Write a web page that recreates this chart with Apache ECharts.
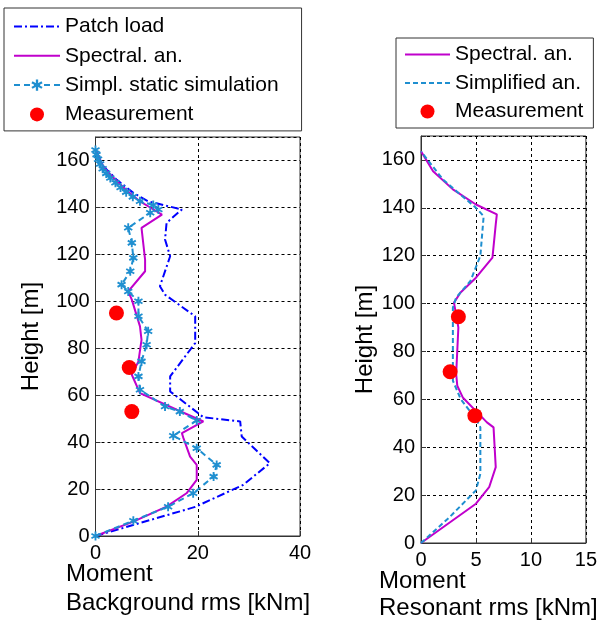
<!DOCTYPE html>
<html>
<head>
<meta charset="utf-8">
<script src="https://cdn.jsdelivr.net/npm/echarts@6/dist/echarts.min.js"></script>
<style>
  html, body { margin: 0; padding: 0; background: #fff; }
  #chart { width: 600px; height: 624px; }
</style>
</head>
<body>
<div id="chart"></div>
<script>
// left panel: background rms moment [kNm] vs height [m]
const patchH = [0, 12.4, 21.8, 31, 42.4, 48.8, 50.6, 59.4, 61.6, 68, 82.2, 93.6, 102.8, 106.4, 119.2, 126.3, 133.4, 138.4, 139.1, 142.6, 146.2, 151.9, 157.6, 164.7];
const patchM = [0, 19.5, 28.9, 34.1, 28.6, 28.3, 21.1, 15.9, 14.6, 14.6, 19.5, 19.5, 13.6, 12.6, 14.6, 13.6, 13.9, 16.5, 16.9, 10.3, 7.4, 4.1, 1.5, 0];

const specBgH = [0, 6.1, 12.5, 18.2, 23.9, 30.3, 33.8, 41.7, 43.8, 48.8, 53.8, 60.9, 68.7, 74.4, 83.6, 89.3, 100.7, 104.2, 112.8, 117.7, 131.3, 136.9, 140.5, 142.6, 147, 152, 157, 164.7];
const specBgM = [0, 7.4, 13.9, 17.8, 19.8, 19.8, 18.5, 17.2, 16.9, 21.1, 15.9, 8.7, 7.1, 8.4, 9.0, 8.7, 7.1, 6.4, 9.7, 9.7, 9.0, 13.0, 10.3, 8.7, 6.2, 3.8, 1.6, 0];

const simH = [0, 6.5, 12.5, 18.2, 25.3, 30.3, 37.4, 42.7, 49.2, 53, 55.2, 62.3, 68, 74.4, 81.5, 87.2, 93.6, 100, 104.2, 107.1, 112.8, 118.5, 124.9, 131.3, 137.7, 139.1, 141, 142.6, 144.5, 146.5, 148.5, 150.5, 152.5, 154.5, 156.5, 158.5, 160.5, 162.5, 164.5];
const simM = [0, 7.4, 14.2, 19.1, 23.1, 23.7, 19.8, 15.2, 19.8, 16.5, 13.6, 8.7, 8.4, 9.0, 10.0, 10.3, 8.4, 8.4, 6.4, 5.1, 6.8, 7.4, 7.1, 6.4, 10.7, 12.3, 11.3, 8.7, 7.3, 6.0, 4.9, 3.9, 2.9, 2.1, 1.4, 0.9, 0.5, 0.2, 0];

const measBgH = [95, 71.8, 53];
const measBgM = [4.1, 6.6, 7.1];

// right panel: resonant rms moment [kNm] vs height [m]
const specResH = [0, 16.4, 23.3, 31.7, 48.3, 50.4, 60.8, 65.7, 70.6, 90, 100.4, 104.6, 110.8, 119.2, 133.1, 137.3, 141.4, 147.7, 155.3, 163.6];
const specResM = [0, 5.0, 6.2, 6.8, 6.6, 6.0, 3.8, 3.3, 3.2, 3.4, 3.0, 3.6, 5.0, 6.5, 6.8, 6.9, 5.0, 2.9, 1.1, 0];

const simpResH = [0, 10.8, 22, 28.9, 48.3, 51.1, 60.2, 67.8, 98.3, 102.5, 109.5, 119.9, 136.5, 140, 151.8, 163.6];
const simpResM = [0, 2.6, 5.0, 5.4, 5.4, 5.1, 3.6, 2.9, 2.9, 3.2, 4.5, 5.4, 5.7, 5.0, 2.0, 0];

const measResH = [94.5, 71.5, 53.2];
const measResM = [3.4, 2.65, 4.9];

const pairs = (m, h) => m.map((v, i) => [v, h[i]]);

const FONT = '"Liberation Sans", Arial, sans-serif';
const STAR = 'path://M-1,-5L1,-5L1,5L-1,5Z' +
  'M3.83,-3.37L4.83,-1.63L-3.83,3.37L-4.83,1.63Z' +
  'M-4.83,-1.63L-3.83,-3.37L4.83,1.63L3.83,3.37Z';

const xAxisBase = (max, interval) => ({
  type: 'value',
  min: 0,
  max: max,
  interval: interval,
  axisLine: { show: true, lineStyle: { color: '#333', width: 1 } },
  axisTick: { show: true, inside: true, length: 5, lineStyle: { color: '#333' } },
  axisLabel: { color: '#000', fontSize: 20, fontFamily: FONT, margin: 7 },
  splitLine: { show: true, lineStyle: { color: '#000', type: [3, 3], width: 1 } },
});

const yAxisBase = (gap) => ({
  type: 'value',
  min: 0,
  max: 170,
  interval: 20,
  name: 'Height [m]',
  nameLocation: 'middle',
  nameGap: gap,
  nameTextStyle: { color: '#000', fontSize: 24, fontFamily: FONT },
  axisLine: { show: true, lineStyle: { color: '#333', width: 1 } },
  axisTick: { show: true, inside: true, length: 5, lineStyle: { color: '#333' } },
  axisLabel: {
    color: '#000', fontSize: 20, fontFamily: FONT, margin: 6,
    formatter: (v) => (v % 20 === 0 ? String(v) : ''),
  },
  splitLine: { show: true, lineStyle: { color: '#000', type: [3, 3], width: 1 } },
});

// line-only legend entries hide their marker; star and dot entries keep theirs
const shown = { opacity: 1 };

const legendBase = {
  orient: 'vertical',
  itemWidth: 46,
  itemHeight: 14,
  itemGap: 8.3,
  borderColor: '#333',
  borderWidth: 1,
  backgroundColor: '#fff',
  itemStyle: { opacity: 0 },
  textStyle: { color: '#000', fontSize: 21, fontFamily: FONT },
};

const option = {
  animation: false,
  backgroundColor: '#fff',
  grid: [
    { left: 95.5, top: 137, width: 204.5, height: 399, show: true, borderColor: '#333', borderWidth: 1 },
    { left: 421, top: 136, width: 168, height: 407, show: true, borderColor: '#333', borderWidth: 1 },
  ],
  xAxis: [
    Object.assign(xAxisBase(40, 20), { gridIndex: 0 }),
    Object.assign(xAxisBase(15, 5), { gridIndex: 1 }),
  ],
  yAxis: [
    Object.assign(yAxisBase(52), { gridIndex: 0 }),
    Object.assign(yAxisBase(44), { gridIndex: 1 }),
  ],
  legend: [
    Object.assign({}, legendBase, {
      left: 4, top: 8,
      padding: [8, 23, 6, 9],
      data: [
        'Patch load',
        'Spectral. an.',
        { name: 'Simpl. static simulation', itemStyle: shown },
        { name: 'Measurement', itemStyle: shown },
      ],
    }),
    Object.assign({}, legendBase, {
      left: 396, top: 38,
      itemWidth: 45,
      itemGap: 7.5,
      padding: [6, 10, 6, 8],
      data: [
        'Spectral. an.',
        'Simplified an.',
        { name: 'Measurement', itemStyle: shown },
      ],
    }),
  ],
  graphic: [
    { type: 'text', left: 66, top: 562, style: { text: 'Moment', font: '24px ' + FONT, fill: '#000' } },
    { type: 'text', left: 66, top: 591, style: { text: 'Background rms [kNm]', font: '24px ' + FONT, fill: '#000' } },
    { type: 'text', left: 379, top: 569, style: { text: 'Moment', font: '24px ' + FONT, fill: '#000' } },
    { type: 'text', left: 379, top: 596, style: { text: 'Resonant rms [kNm]', font: '24px ' + FONT, fill: '#000' } },
  ],
  series: [
    {
      name: 'Patch load', type: 'line', xAxisIndex: 0, yAxisIndex: 0,
      symbol: 'none',
      lineStyle: { color: '#0000ff', width: 2, type: [8, 3, 2, 3] },
      itemStyle: { color: '#0000ff' },
      data: pairs(patchM, patchH),
    },
    {
      name: 'Spectral. an.', type: 'line', xAxisIndex: 0, yAxisIndex: 0,
      symbol: 'none',
      lineStyle: { color: '#c000cc', width: 2 },
      itemStyle: { color: '#c000cc' },
      data: pairs(specBgM, specBgH),
    },
    {
      name: 'Simpl. static simulation', type: 'line', xAxisIndex: 0, yAxisIndex: 0,
      symbol: STAR, symbolSize: 9, showSymbol: true,
      lineStyle: { color: '#1f8fd0', width: 2, type: [6, 4] },
      itemStyle: { color: '#1f8fd0' },
      data: pairs(simM, simH),
    },
    {
      name: 'Measurement', type: 'scatter', xAxisIndex: 0, yAxisIndex: 0,
      symbol: 'circle', symbolSize: 15,
      itemStyle: { color: '#ff0000', opacity: 1 },
      data: pairs(measBgM, measBgH),
      z: 5,
    },
    {
      name: 'Spectral. an.', type: 'line', xAxisIndex: 1, yAxisIndex: 1,
      symbol: 'none',
      lineStyle: { color: '#c000cc', width: 2 },
      itemStyle: { color: '#c000cc' },
      data: pairs(specResM, specResH),
    },
    {
      name: 'Simplified an.', type: 'line', xAxisIndex: 1, yAxisIndex: 1,
      symbol: 'none',
      lineStyle: { color: '#1f8fd0', width: 2, type: [5, 3] },
      itemStyle: { color: '#1f8fd0' },
      data: pairs(simpResM, simpResH),
    },
    {
      name: 'Measurement', type: 'scatter', xAxisIndex: 1, yAxisIndex: 1,
      symbol: 'circle', symbolSize: 15,
      itemStyle: { color: '#ff0000', opacity: 1 },
      data: pairs(measResM, measResH),
      z: 5,
    },
  ],
};

const chart = echarts.init(document.getElementById('chart'));
chart.setOption(option);
</script>
</body>
</html>
